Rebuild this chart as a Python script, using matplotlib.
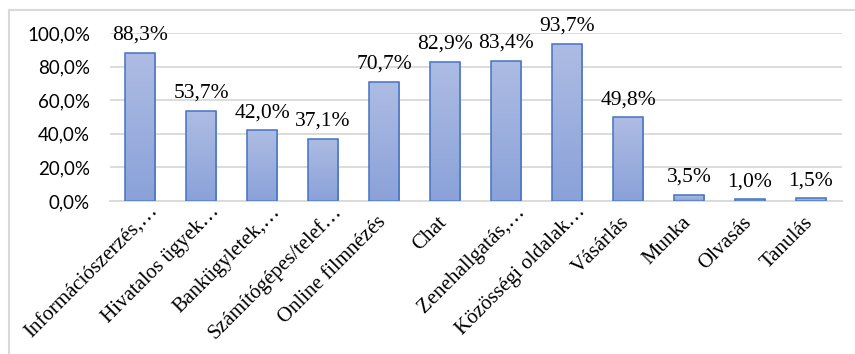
import numpy as np
import matplotlib as mpl
import matplotlib.pyplot as plt
from matplotlib.lines import Line2D
from matplotlib.ticker import FuncFormatter
import matplotlib.transforms as mtransforms

categories = ['Információszerzés,…', 'Hivatalos ügyek…', 'Bankügyletek,…',
              'Számítógépes/telef…', 'Online filmnézés', 'Chat',
              'Zenehallgatás,…', 'Közösségi oldalak…', 'Vásárlás',
              'Munka', 'Olvasás', 'Tanulás']
values = [88.3, 53.7, 42.0, 37.1, 70.7, 82.9, 83.4, 93.7, 49.8, 3.5, 1.0, 1.5]
yticks = [0, 20, 40, 60, 80, 100]

serif = 'Liberation Serif'
grid_color = '#d9d9d9'

fig = plt.figure(figsize=(8.55, 3.54), dpi=100)
ax = fig.add_axes([109.5 / 855, 1 - 201 / 354, 732 / 855, 168 / 354])

x = np.arange(len(values))
bars = ax.bar(x, values, width=0.5, color='none', edgecolor='#4472c4',
              linewidth=1.1, zorder=3)

# vertical gradient fill, lighter at the top
cmap = mpl.colors.LinearSegmentedColormap.from_list('g', ['#8aa2d9', '#aebce3'])
grad = np.linspace(0, 1, 256).reshape(-1, 1)
for b in bars:
    x0, w, h = b.get_x(), b.get_width(), b.get_height()
    im = ax.imshow(grad, extent=[x0, x0 + w, 0, h], origin='lower',
                   aspect='auto', cmap=cmap, zorder=2)
    im.set_clip_path(b)

for xi, v in zip(x, values):
    ax.annotate('{:.1f}%'.format(v).replace('.', ','), (xi, v),
                xytext=(0, 9.5), textcoords='offset points',
                ha='center', va='baseline', fontsize=15.5, family=serif)

ax.set_xlim(-0.5, len(values) - 0.5)
ax.set_ylim(0, 100)
ax.set_yticks(yticks)
ax.yaxis.set_major_formatter(FuncFormatter(lambda v, p: '{:.1f}%'.format(v).replace('.', ',')))
ax.grid(axis='y', color=grid_color, linewidth=1.3, zorder=0)
ax.set_axisbelow(True)
for s in ['top', 'right', 'left']:
    ax.spines[s].set_visible(False)
ax.spines['bottom'].set_color(grid_color)
ax.spines['bottom'].set_linewidth(1.3)
ax.tick_params(axis='both', length=0)
ax.tick_params(axis='y', pad=14, labelsize=13.5)
for t in ax.get_yticklabels():
    t.set_family('Lato')

ax.set_xticks(x)
ax.set_xticklabels(categories, rotation=45, ha='right', va='baseline',
                   rotation_mode='anchor', fontsize=15, family=serif)
ax.tick_params(axis='x', pad=15.8)
# truncated labels sit a bit further along the text direction
for t, name in zip(ax.get_xticklabels(), categories):
    if name.endswith('…'):
        dx, dy = 19 / 100, 11 / 100
    else:
        dx, dy = 2 / 100, 0
    t.set_transform(t.get_transform() + mtransforms.ScaledTranslation(dx, dy, fig.dpi_scale_trans))

# chart frame (only top and left edges visible)
fig.add_artist(Line2D([9 / 855, 9 / 855], [0, 1 - 10 / 354], color=grid_color,
                      linewidth=1.5, transform=fig.transFigure))
fig.add_artist(Line2D([9 / 855, 1], [1 - 10 / 354, 1 - 10 / 354], color=grid_color,
                      linewidth=1.5, transform=fig.transFigure))

fig.savefig('out.png', dpi=100)
